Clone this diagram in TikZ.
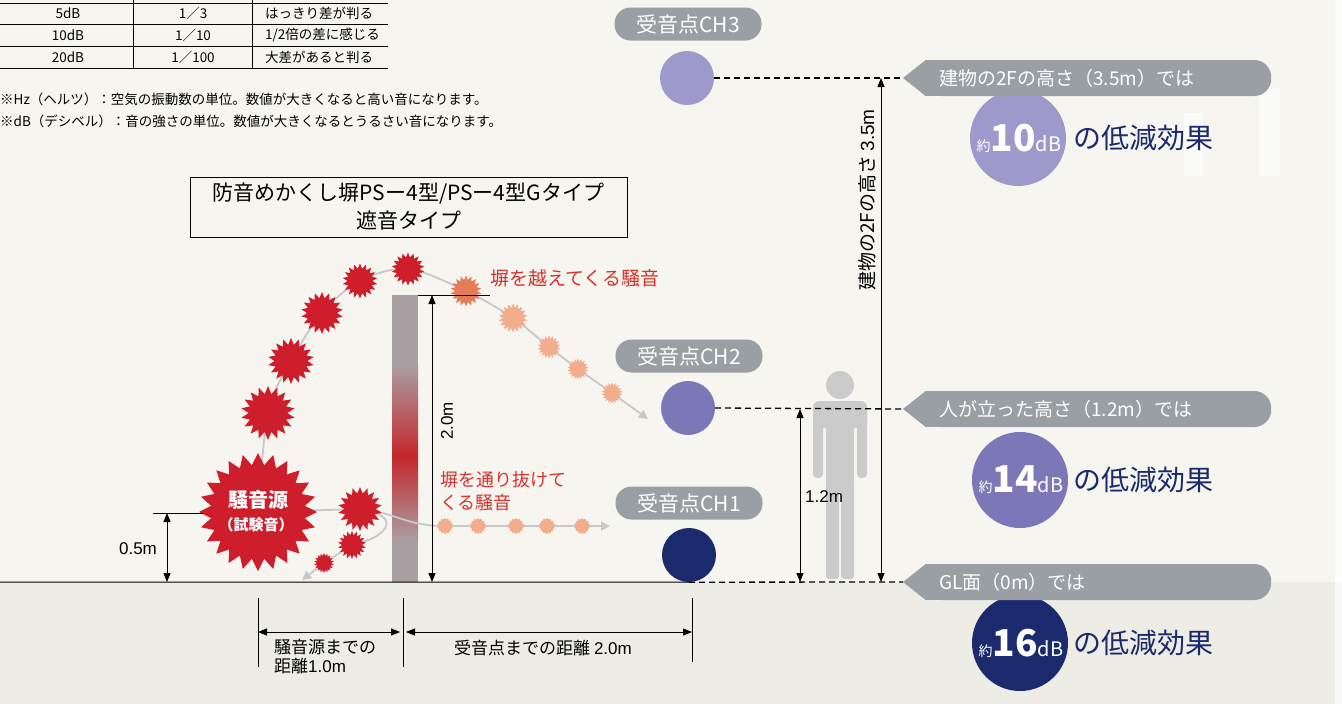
\documentclass[tikz,border=0pt]{standalone}
\usepackage{fontspec}
\setmainfont{Noto Sans CJK JP}
\newfontfamily\latn{Liberation Sans}
\usetikzlibrary{arrows.meta,shapes.geometric,calc}
\pgfdeclarelayer{back}
\pgfdeclarelayer{mid}
\pgfsetlayers{back,mid,main}

\definecolor{paper}{HTML}{F6F5F0}
\definecolor{groundc}{HTML}{EDECE5}
\definecolor{tagc}{HTML}{9A9FA3}
\definecolor{lav}{HTML}{9D9ACB}
\definecolor{mauve}{HTML}{7C78B8}
\definecolor{navyc}{HTML}{1B2A6C}
\definecolor{noise}{HTML}{CE1E2B}
\definecolor{amber}{HTML}{E47C58}
\definecolor{peach}{HTML}{F2AE8C}
\definecolor{trail}{HTML}{C8C8C8}
\definecolor{redtxt}{HTML}{D8322C}
\definecolor{figc}{HTML}{CBCBCB}
\definecolor{wallgray}{HTML}{A99FA3}
\definecolor{wallred}{HTML}{C4262B}

\newcommand\fsz[2]{\fontsize{#1}{#2}\selectfont}

\tikzset{
  tline/.style={line width=0.8pt},
  cell/.style={inner sep=0pt, font=\fsz{13.5}{15}},
  spark/.style={star, star points=18, star point ratio=1.4, inner sep=0pt, draw=none, fill=noise},
  trailline/.style={draw=trail, line width=1.8pt},
  trailtip/.style={-{Triangle[length=9pt,width=9pt]}},
  dim/.style={line width=0.8pt, {Triangle[length=9pt,width=7pt]}-{Triangle[length=9pt,width=7pt]}},
  dimtick/.style={line width=0.8pt},
  levelline/.style={line width=1.3pt, dash pattern=on 6pt off 4pt},
  rxtag/.style={rectangle, rounded corners=16pt, fill=tagc, text=white, minimum width=147pt, minimum height=33pt, inner sep=0pt, font=\fsz{21}{23}},
  rx/.style={circle, minimum size=54pt, inner sep=0pt},
  fxtag/.style={rectangle, rounded corners=17pt, fill=tagc, text=white, text width=318pt, align=left, inner xsep=14pt, inner ysep=0pt, minimum height=36pt, anchor=west, font=\fsz{19}{21}},
  fxdisc/.style={circle, minimum size=96pt, inner sep=0pt},
  fxval/.style={text=white, inner sep=0pt},
  fxtext/.style={text=navyc, anchor=west, inner sep=0pt, font=\fsz{28}{30}},
  lbl/.style={inner sep=0pt, font=\fsz{17}{19}},
  num/.style={inner sep=0pt, font=\latn\fsz{17}{19}},
}

\begin{document}
\begin{tikzpicture}[x=1pt,y=-1pt]
\useasboundingbox (0,0) rectangle (1342,704);

\begin{pgfonlayer}{back}
  % paper, ground band and faint building
  \fill[paper] (0,0) rectangle (1342,704);
  \fill[groundc] (0,582) rectangle (1342,704);
  \fill[white,opacity=0.7] (1335,0) rectangle (1342,704);
  \fill[white,opacity=0.6] (1184,113) rectangle (1203,176);
  \fill[white,opacity=0.6] (1259,88) rectangle (1280,176);

  % the wall, red where the sound passes through
  \fill[wallgray] (392,295) rectangle (418,365.5);
  \shade[top color=wallgray, bottom color=wallred] (392,365) rectangle (418,456.5);
  \shade[top color=wallred, bottom color=wallgray] (392,456) rectangle (418,540.5);
  \fill[wallgray] (392,540) rectangle (418,582);

  % standing person
  \fill[figc] (840,385) circle (14);
  \fill[figc, rounded corners=6pt] (813,401) rectangle (867,428);
  \fill[figc, rounded corners=4pt] (813,412) rectangle (823,478);
  \fill[figc, rounded corners=4pt] (857,412) rectangle (867,478);
  \fill[figc] (826,412) rectangle (854,492);
  \fill[figc, rounded corners=3pt] (826,480) rectangle (839,579);
  \fill[figc, rounded corners=3pt] (841,480) rectangle (854,579);
\end{pgfonlayer}

% table of decibel differences
\foreach \yy in {3,24,46,68} \draw[tline] (0,\yy) -- (388,\yy);
\draw[tline] (133,0) -- (133,68);
\draw[tline] (252,0) -- (252,68);
\node[cell] (r1a) at (68,13) {5dB};
\node[cell] (r1b) at (193,13) {1／3};
\node[cell, anchor=west] (r1c) at (265,13) {はっきり差が判る};
\node[cell] (r2a) at (68,35) {10dB};
\node[cell] (r2b) at (193,35) {1／10};
\node[cell, anchor=west] (r2c) at (265,35) {1/2倍の差に感じる};
\node[cell] (r3a) at (68,57) {20dB};
\node[cell] (r3b) at (193,57) {1／100};
\node[cell, anchor=west] (r3c) at (265,57) {大差があると判る};
\node[cell, anchor=west] (note1) at (0,99) {※Hz（ヘルツ）：空気の振動数の単位。数値が大きくなると高い音になります。};
\node[cell, anchor=west] (note2) at (0,121) {※dB（デシベル）：音の強さの単位。数値が大きくなるとうるさい音になります。};

% product title
\node[draw, line width=0.8pt, minimum width=437pt, minimum height=60pt, align=center, inner sep=0pt, font=\fsz{21}{28}] (title) at (408.5,207) {防音めかくし塀PSー4型/PSー4型Gタイプ\\遮音タイプ};

% noise source and sound bursts
\node[spark, star points=24, star point ratio=1.25, minimum size=118pt] (src) at (258,512) {};
\node[text=white, inner sep=0pt, font=\fsz{20}{22}\bfseries] (srcname) at (258,500) {騒音源};
\node[text=white, inner sep=0pt, font=\fsz{15}{17}\bfseries] (srcnote) at (256,525) {（試験音）};

\node[spark, minimum size=54pt] (a1) at (268,413) {};
\node[spark, minimum size=46pt] (a2) at (291,361) {};
\node[spark, minimum size=42pt] (a3) at (322,313) {};
\node[spark, minimum size=35pt] (a4) at (360,281) {};
\node[spark, minimum size=33pt] (a5) at (408,269) {};
\node[spark, fill=amber, minimum size=31pt] (b1) at (466,291) {};
\node[spark, fill=peach, minimum size=29pt] (b2) at (513,318) {};
\node[spark, fill=peach, minimum size=23pt] (b3) at (549,347) {};
\node[spark, fill=peach, minimum size=21pt] (b4) at (578,369) {};
\node[spark, fill=peach, minimum size=21pt] (b5) at (612,393) {};
\coordinate (bend) at (648,419);

\node[spark, minimum size=44pt] (c1) at (360,509) {};
\node[spark, minimum size=28pt] (c2) at (352,545) {};
\node[spark, minimum size=20pt] (c3) at (324,563) {};
\coordinate (cend) at (302,580);
\foreach [count=\i] \xx in {445,478,516,547,582}
  \node[spark, fill=peach, star points=14, star point ratio=1.2, minimum size=16pt] (d\i) at (\xx,526) {};
\coordinate (dend) at (610,526);

\node[anchor=west, text=redtxt, inner sep=0pt, font=\fsz{19}{21}] (overlbl) at (490,278) {塀を越えてくる騒音};
\node[anchor=west, align=left, text=redtxt, inner sep=0pt, font=\fsz{18}{23}] (thrulbl) at (440,491) {塀を通り抜けて\\くる騒音};

\begin{pgfonlayer}{mid}
  \draw[trailline, trailtip] plot[smooth, tension=0.55] coordinates {(src.center) (a1.center) (a2.center) (a3.center) (a4.center) (a5.center) (b1.center) (b2.center) (b3.center) (b4.center) (b5.center) (bend)};
  \draw[trailline] (src.center) -- (c1.center);
  \draw[trailline, trailtip] (c1.center) .. controls (395,512) and (405,526) .. (d1.center) -- (dend);
  \draw[trailline, trailtip] (c1.center) .. controls (398,514) and (395,535) .. (c2.center) -- (c3.center) -- (cend);
\end{pgfonlayer}

% ground
\coordinate (g0) at (0,582);

% wall height 2.0m
\coordinate (walltop) at (418,295);
\coordinate (wallmark) at (490,295);
\coordinate (h2a) at (432,295);
\coordinate (h2b) at (432,582);
\draw[dimtick] (walltop) -- (wallmark);
\draw[dim] (h2a) -- (h2b);
\node[num, rotate=90] (h2lbl) at (447,421) {2.0m};

% source height 0.5m
\coordinate (s05) at (153,513);
\coordinate (s05e) at (203,513);
\coordinate (s05a) at (167,513);
\coordinate (s05b) at (167,582);
\draw[dimtick] (s05) -- (s05e);
\draw[dim] (s05a) -- (s05b);
\node[num] (h05lbl) at (138,549) {0.5m};

% receivers
\node[rxtag] (tag3) at (688,24) {受音点CH3};
\node[rx, fill=lav] (ch3) at (687,78) {};
\node[rxtag] (tag2) at (689,356) {受音点CH2};
\node[rx, fill=mauve] (ch2) at (688,408) {};
\node[rxtag] (tag1) at (689,503) {受音点CH1};
\node[rx, fill=navyc] (ch1) at (689,555) {};

\draw[line width=1pt] (g0) -- (ch1.south);

% horizontal distances
\coordinate (k1a) at (258,598); \coordinate (k1b) at (258,667);
\coordinate (k2a) at (403,598); \coordinate (k2b) at (403,667);
\coordinate (k3a) at (692,598); \coordinate (k3b) at (692,662);
\draw[dimtick] (k1a) -- (k1b);
\draw[dimtick] (k2a) -- (k2b);
\draw[dimtick] (k3a) -- (k3b);
\coordinate (m1a) at (258,632); \coordinate (m1b) at (400,632);
\coordinate (m2a) at (406,632); \coordinate (m2b) at (692,632);
\draw[dim] (m1a) -- (m1b);
\draw[dim] (m2a) -- (m2b);
\node[lbl, anchor=west, align=left, font=\fsz{17}{19}] (dist1) at (274,657) {騒音源までの\\距離{\latn 1.0m}};
\node[lbl] (dist2) at (543,648) {受音点までの距離 {\latn 2.0m}};

% reduction results
\node[fxdisc, fill=lav] (e3) at (1018,138) {};
\node[fxdisc, fill=mauve] (e2) at (1020,480) {};
\node[fxdisc, fill=navyc] (e1) at (1020,643) {};

\node[fxtag] (fx3) at (925,78) {建物の2Fの高さ（3.5m）では};
\node[fxtag] (fx2) at (925,409) {人が立った高さ（1.2m）では};
\node[fxtag] (fx1) at (925,582) {GL面（0m）では};
\coordinate (tip3) at (903,78);
\coordinate (tip2) at (903,409);
\coordinate (tip1) at (903,582);

\begin{pgfonlayer}{mid}
  \foreach \k in {1,2,3} {
    \fill[tagc] (tip\k) -- ($(fx\k.north west)+(1,0)$) -- ($(fx\k.south west)+(1,0)$) -- cycle;
    \fill[tagc] (fx\k.north west) rectangle ($(fx\k.south west)+(30,0)$);
  }
\end{pgfonlayer}

\draw[levelline] (ch3.east) -- (tip3);
\draw[levelline] (ch2.east) -- (tip2);
\draw[levelline] (ch1.south) -- (tip1);

\coordinate (v35a) at (881,78); \coordinate (v35b) at (881,582);
\draw[dim] (v35a) -- (v35b);
\node[lbl, rotate=90, font=\fsz{19}{21}] (v35lbl) at (867,200) {建物の2Fの高さ {\latn 3.5m}};
\coordinate (v12a) at (800,409); \coordinate (v12b) at (800,582);
\draw[dim] (v12a) -- (v12b);
\node[num, anchor=west] (v12lbl) at (805,497) {1.2m};

\node[fxval] (val3) at (1019,138) {\fsz{14}{14}約\fsz{37}{37}\bfseries 10\mdseries\fsz{20}{20}dB};
\node[fxval] (val2) at (1021,480) {\fsz{14}{14}約\fsz{37}{37}\bfseries 14\mdseries\fsz{20}{20}dB};
\node[fxval] (val1) at (1021,643) {\fsz{14}{14}約\fsz{37}{37}\bfseries 16\mdseries\fsz{20}{20}dB};
\node[fxtext] (res3) at (1073,138) {の低減効果};
\node[fxtext] (res2) at (1073,480) {の低減効果};
\node[fxtext] (res1) at (1073,643) {の低減効果};
\end{tikzpicture}
\end{document}
